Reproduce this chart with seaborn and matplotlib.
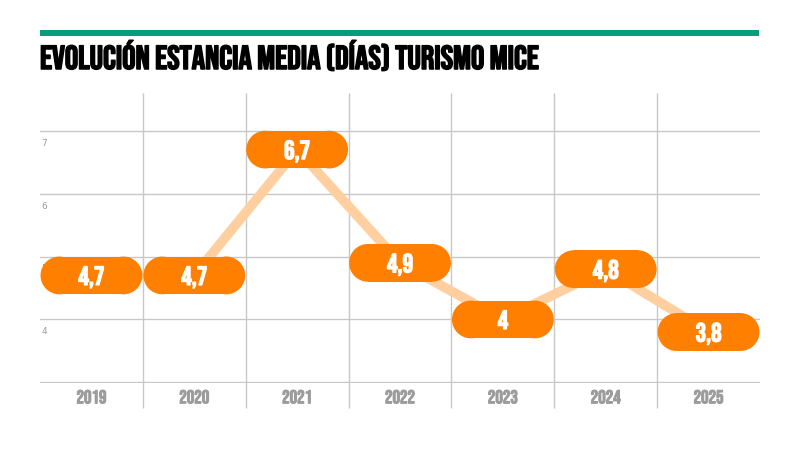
import matplotlib
matplotlib.use('Agg')
import matplotlib.pyplot as plt
import matplotlib.patheffects as pe
from matplotlib.patches import Rectangle, Ellipse
import seaborn as sns
import pandas as pd
import numpy as np

# datos
years = ['2019', '2020', '2021', '2022', '2023', '2024', '2025']
stay = [4.7, 4.7, 6.7, 4.9, 4.0, 4.8, 3.8]
yticks = [3, 4, 5, 6, 7]
ytick_labels = ['', '4', '5', '6', '7']
title = 'EVOLUCIÓN ESTANCIA MEDIA (DÍAS) TURISMO MICE'

orange = '#FF7F00'
light_orange = '#FFCFA0'
grid_c = '#c8c8c8'
gray = '#9c9c9c'
green = '#079c7c'

sns.set_style('white')
plt.rcParams['font.family'] = ['DejaVu Sans']
cond = ['Bebas Neue', 'Roboto Condensed', 'DejaVu Sans']


def bold(color, lw):
    # engrosa un poco la fuente condensada
    return [pe.withStroke(linewidth=lw, foreground=color)]


df = pd.DataFrame({'pos': np.arange(len(years)), 'value': stay})

W, H = 8, 4.6
fig = plt.figure(figsize=(W, H), dpi=100)
pos = [0.05, 0.1652, 0.9, 0.6305]
ax = fig.add_axes(pos)

sns.lineplot(data=df, x='pos', y='value', color=light_orange, lw=7,
             solid_capstyle='butt', ax=ax, zorder=3)

xlim = (-0.5, len(years) - 0.5)
ylim = (2.99, 7.6)
ax.set_xlim(*xlim)
ax.set_ylim(*ylim)
ax.set_yticks(yticks)
ax.set_xticks([])
ax.set_yticklabels([])
ax.tick_params(left=False, bottom=False)
ax.grid(axis='y', color=grid_c, lw=1, zorder=0)
ax.set_axisbelow(True)
for s in ax.spines.values():
    s.set_visible(False)
ax.set_xlabel('')
ax.set_ylabel('')

# separadores verticales entre años
ax.vlines(np.arange(len(years) - 1) + 0.5, 2.59, 7.6, color=grid_c, lw=1,
          clip_on=False, zorder=0)

# etiquetas eje y
for v, lab in zip(yticks, ytick_labels):
    ax.annotate(lab, (-0.5, v), xytext=(1, -5), textcoords='offset points',
                ha='left', va='top', fontsize=6.5, color=gray, zorder=1)

# años
for i, y in enumerate(years):
    ax.annotate(y, (i, 3), xytext=(0, -5), textcoords='offset points',
                ha='center', va='top', fontsize=13.5, family=cond, color=gray,
                path_effects=bold(gray, 0.7))

# cajas redondeadas (píldoras) con valores
xppu = W * 100 * pos[2] / (xlim[1] - xlim[0])
yppu = H * 100 * pos[3] / (ylim[1] - ylim[0])
h = 0.6
rx = (h / 2) * yppu / xppu
bw = 0.99
for i, v in enumerate(stay):
    x0 = i - bw / 2
    ax.add_patch(Rectangle((x0 + rx, v - h / 2), bw - 2 * rx, h, fc=orange,
                           ec='none', zorder=4))
    ax.add_patch(Ellipse((x0 + rx, v), 2 * rx, h, fc=orange, ec='none', zorder=4))
    ax.add_patch(Ellipse((x0 + bw - rx, v), 2 * rx, h, fc=orange, ec='none',
                         zorder=4))
    txt = ('%g' % v).replace('.', ',')
    ax.text(i, v, txt, ha='center', va='center_baseline', fontsize=19,
            family=cond, color='white', zorder=5,
            path_effects=bold('white', 0.9))

# barra verde y título
fig.patches.append(Rectangle((0.05, 1 - 37 / 460), 0.8988, 6 / 460,
                             transform=fig.transFigure, fc=green, ec='none'))
fig.text(0.05, 1 - 70 / 460, title, ha='left', va='baseline', fontsize=24,
         family=cond, color='black', path_effects=bold('black', 1.1))

fig.savefig('out.png', dpi=100)
